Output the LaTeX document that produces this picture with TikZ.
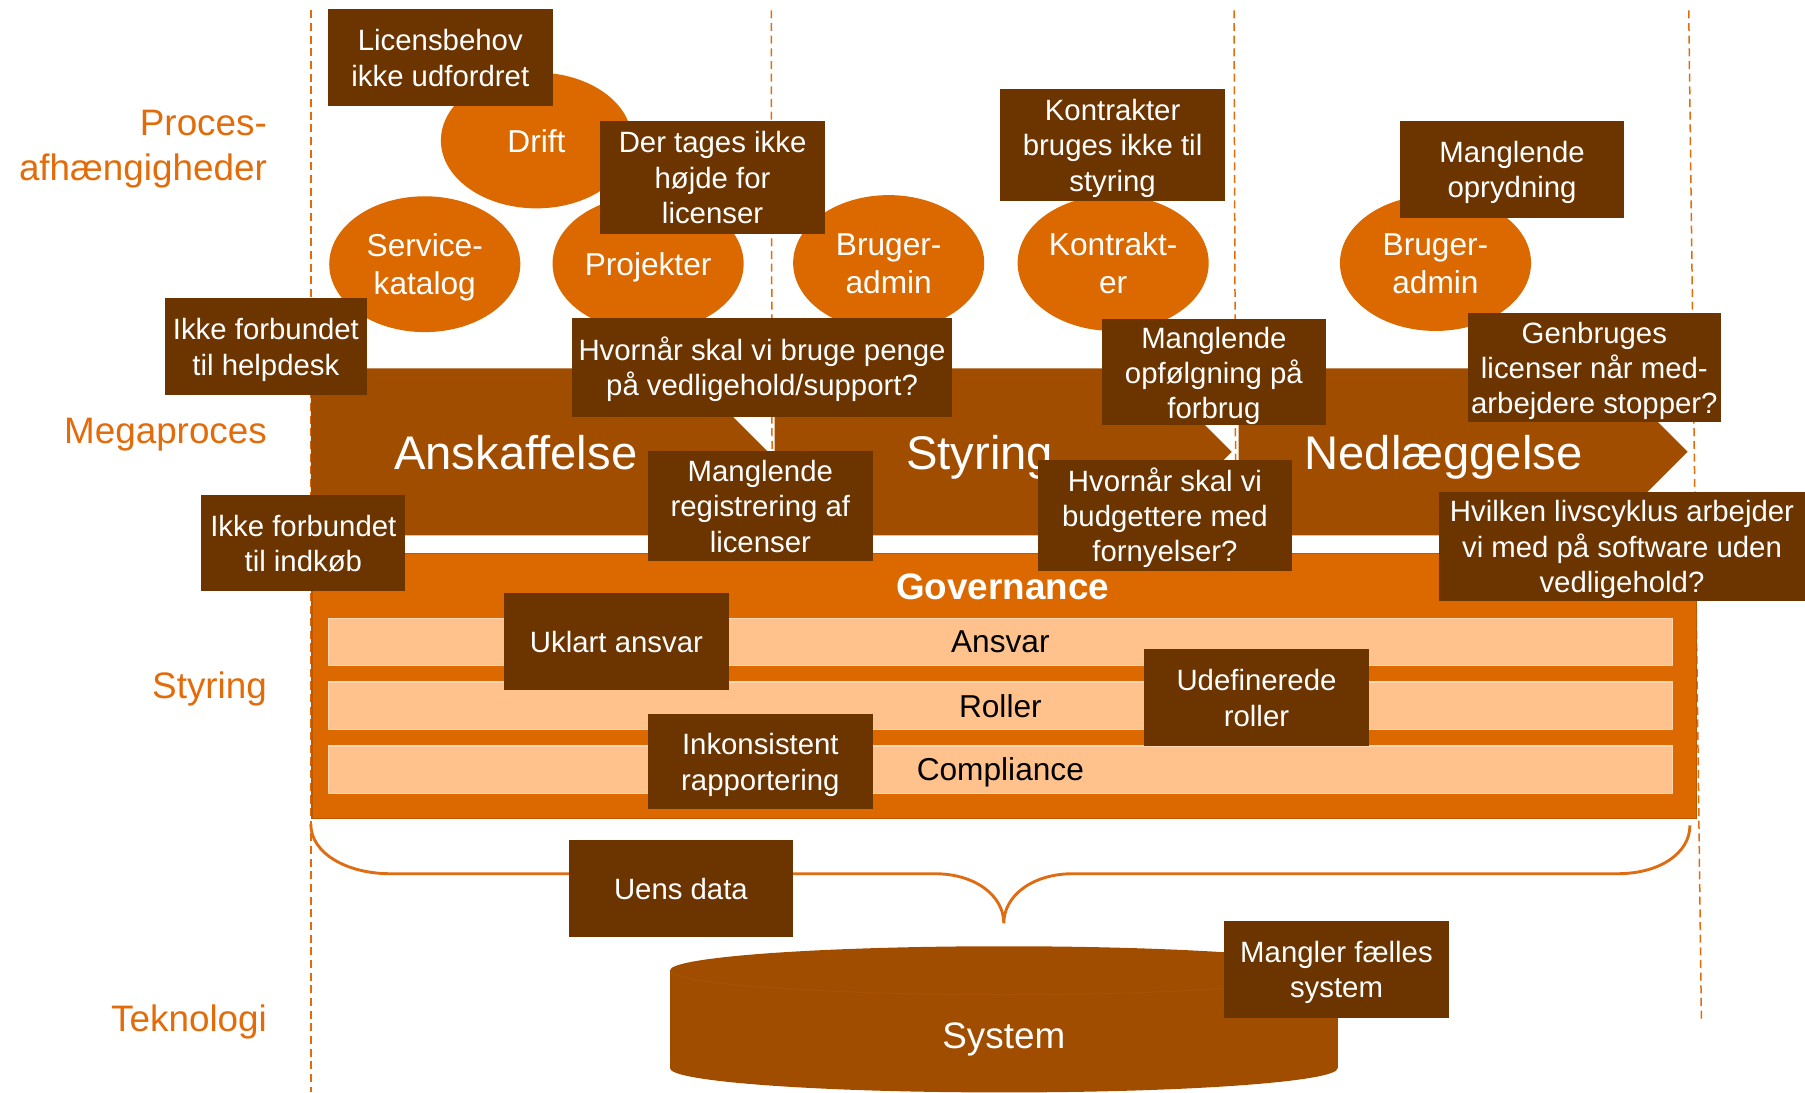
\documentclass[tikz,border=0pt]{standalone}
\usepackage{fontspec}
\setmainfont{Liberation Sans}
\usetikzlibrary{shapes.geometric}
\definecolor{boxbrown}{RGB}{108,53,0}
\definecolor{circorange}{RGB}{219,105,0}
\definecolor{chevbrown}{RGB}{161,77,0}
\definecolor{peach}{RGB}{255,194,140}
\definecolor{labelorange}{RGB}{227,108,10}
\definecolor{govedge}{RGB}{190,88,0}
\definecolor{peachedge}{RGB}{250,215,180}
\definecolor{braceorange}{RGB}{223,107,18}
\definecolor{cyledge}{RGB}{170,82,4}
\newcommand\cstop{\rule{0pt}{0.98em}}
\begin{document}
\begin{tikzpicture}[x=1pt,y=-1pt,
 cstrut/.style={execute at begin node={\rule{0pt}{0.98em}}, execute at end node={\rule[-0.235em]{0pt}{0.235em}}},
 issue/.style={cstrut, fill=boxbrown, text=white, align=center, inner sep=0pt, font=\fontsize{25.5}{30.6}\selectfont},
 bubble/.style={cstrut, ellipse, fill=circorange, text=white, align=center, inner sep=0pt, minimum width=166pt, minimum height=118pt, font=\fontsize{27.5}{33}\selectfont},
 rowlabel/.style={cstrut, anchor=east, text=labelorange, align=right, inner sep=0pt, font=\fontsize{32}{39}\selectfont},
 chevronshape/.style={fill=chevbrown},
 chevtext/.style={cstrut, text=white, inner sep=0pt, font=\fontsize{41}{49}\selectfont},
 barshape/.style={fill=peach, draw=peachedge, line width=1pt},
 bartext/.style={cstrut, text=black, inner sep=0pt, font=\fontsize{27.5}{33}\selectfont},
 divider/.style={draw=labelorange, line width=1.3pt, dash pattern=on 7pt off 4pt},
]
\useasboundingbox (0,0) rectangle (1568,949);

% dashed column dividers
\draw[divider] (270,9) -- (270,949);
\draw[divider] (670,9) -- (671,600);
\draw[divider] (1072,9) -- (1074,600);
\draw[divider] (1467,9) -- (1478,887);

% process circles
\node[bubble] (drift) at (466,122) {Drift};
\node[bubble] (service) at (369,229.5) {\cstop Service-\\katalog};
\node[bubble] (projekter) at (563,229) {Projekter};
\node[bubble] (bruger1) at (772,228.5) {\cstop Bruger-\\admin};
\node[bubble] (kontrakter) at (967,228.5) {\cstop Kontrakt-\\er};
\node[bubble] (bruger2) at (1247,228.5) {\cstop Bruger-\\admin};

% chevrons
\fill[chevronshape] (270,320) -- (594.5,320) -- (667,392.5) -- (594.5,465) -- (270,465) -- cycle;
\fill[chevronshape] (673,320) -- (997.5,320) -- (1070,392.5) -- (997.5,465) -- (673,465) -- cycle;
\fill[chevronshape] (1076,320) -- (1393.5,320) -- (1466,392.5) -- (1393.5,465) -- (1076,465) -- cycle;
\node[chevtext] (anskaffelse) at (448,393) {Anskaffelse};
\node[chevtext] (styring) at (851,393) {Styring};
\node[chevtext] (nedlaeggelse) at (1254,393) {Nedlæggelse};

% governance
\draw[fill=circorange, draw=govedge, line width=1pt] (271,481) rectangle (1474,711);
\node[cstrut, text=white, inner sep=0pt, font=\fontsize{32}{38}\selectfont\bfseries] (governance) at (871,509) {Governance};
\draw[barshape] (285,537) rectangle (1453,578);
\draw[barshape] (285,592.5) rectangle (1453,633.5);
\draw[barshape] (285,648) rectangle (1453,689);
\node[bartext] (ansvar) at (869,557) {Ansvar};
\node[bartext] (roller) at (869,613) {Roller};
\node[bartext] (compliance) at (869,668) {Compliance};

% brace
\draw[braceorange, line width=2.5pt]
 (270,716) .. controls (270,741) and (301,759) .. (339,759)
 -- (812,759) .. controls (847,759) and (872,778) .. (872,802)
 .. controls (872,778) and (897,759) .. (932,759)
 -- (1405,759) .. controls (1442,759) and (1468,741) .. (1468,717);

% system cylinder
\fill[chevbrown] (872,928) ellipse [x radius=290, y radius=21];
\fill[chevbrown] (582,843) rectangle (1162,928);
\fill[chevbrown] (872,843) ellipse [x radius=290, y radius=21];
\draw[cyledge, line width=0.6pt] (582,843) arc[start angle=180, end angle=0, x radius=290, y radius=21];
\node[cstrut, text=white, inner sep=0pt, font=\fontsize{32}{38}\selectfont] (system) at (872,899) {System};

% row labels
\node[rowlabel] (lblproces) at (232,125.5) {\cstop Proces-\\afhængigheder};
\node[rowlabel] (lblmega) at (232,373) {Megaproces};
\node[rowlabel] (lblstyring) at (232,595) {Styring};
\node[rowlabel] (lblteknologi) at (232,884) {Teknologi};

% issue boxes
\node[issue, minimum width=195pt, minimum height=84pt] (lic) at (382.5,50) {\cstop Licensbehov\\ikke udfordret};
\node[issue, minimum width=196pt, minimum height=98pt] (der) at (619,154) {\cstop Der tages ikke\\højde for\\licenser};
\node[issue, minimum width=176pt, minimum height=84pt] (help) at (231,301) {\cstop Ikke forbundet\\til helpdesk};
\node[issue, minimum width=330pt, minimum height=86pt] (penge) at (662,319) {\cstop Hvornår skal vi bruge penge\\på vedligehold/support?};
\node[issue, minimum width=195pt, minimum height=95pt] (reg) at (660.5,439.5) {\cstop Manglende\\registrering af\\licenser};
\node[issue, minimum width=177pt, minimum height=83pt] (indk) at (263.5,471.5) {\cstop Ikke forbundet\\til indkøb};
\node[issue, minimum width=195pt, minimum height=84pt] (uklart) at (535.5,557) {Uklart ansvar};
\node[issue, minimum width=195pt, minimum height=83pt] (inkons) at (660.5,661.5) {\cstop Inkonsistent\\rapportering};
\node[issue, minimum width=195pt, minimum height=84pt] (uens) at (591.5,772) {Uens data};
\node[issue, minimum width=195pt, minimum height=98pt] (kontr) at (966.5,126) {\cstop Kontrakter\\bruges ikke til\\styring};
\node[issue, minimum width=195pt, minimum height=84pt] (opryd) at (1313.5,147) {\cstop Manglende\\oprydning};
\node[issue, minimum width=195pt, minimum height=91pt] (opfolg) at (1054.5,323.5) {\cstop Manglende\\opfølgning på\\forbrug};
\node[issue, minimum width=220pt, minimum height=95pt] (genbrug) at (1385,319.5) {\cstop Genbruges\\licenser når med-\\arbejdere stopper?};
\node[issue, minimum width=220pt, minimum height=96pt] (budget) at (1012,448) {\cstop Hvornår skal vi\\budgettere med\\fornyelser?};
\node[issue, minimum width=318pt, minimum height=95pt] (hvilken) at (1409,474.5) {\cstop Hvilken livscyklus arbejder\\vi med på software uden\\vedligehold?};
\node[issue, minimum width=195pt, minimum height=84pt] (udef) at (1091.5,606) {\cstop Udefinerede\\roller};
\node[issue, minimum width=196pt, minimum height=84pt] (mangler) at (1161,842) {\cstop Mangler fælles\\system};
\end{tikzpicture}
\end{document}
